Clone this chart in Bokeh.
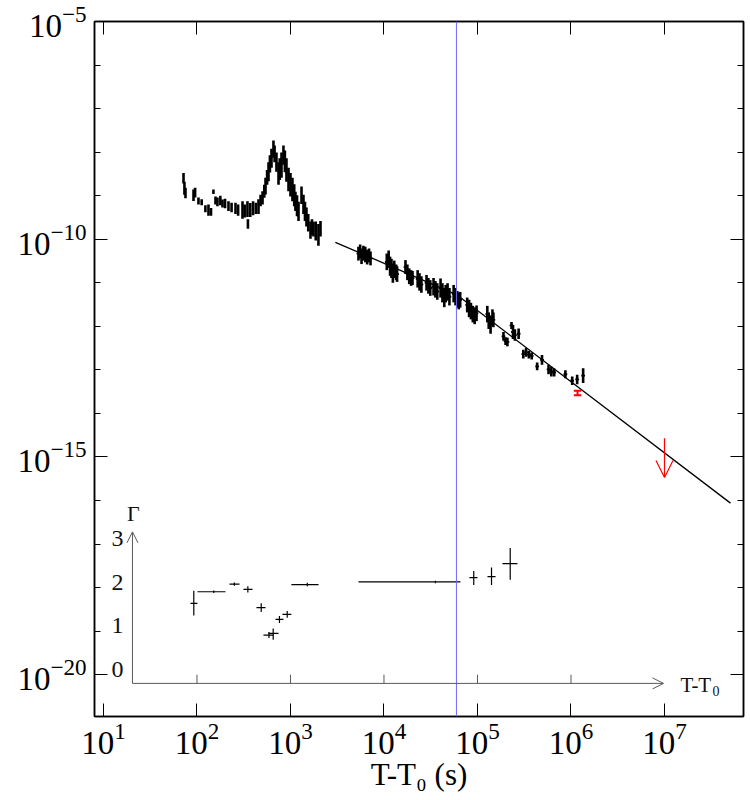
import numpy as np
from bokeh.plotting import figure
from bokeh.models import (LogAxis, FixedTicker, Span, Arrow, OpenHead, Label,
                          ColumnDataSource, Range1d, CustomJSTickFormatter)
from bokeh.embed import file_html
from bokeh.resources import INLINE
from bokeh.core.properties import value

FONT = "Liberation Serif"

# ---------------- data (log10 values) ----------------
# early light curve: log10(T-T0 [s]), log10(flux), half error (dex)
early_logt = [1.856, 1.866, 1.877, 1.963, 1.98, 2.016, 2.05, 2.09, 2.123, 2.15,
              2.176, 2.198, 2.219, 2.25, 2.273, 2.30, 2.337, 2.37, 2.412, 2.44,
              2.487, 2.51, 2.54, 2.545, 2.57, 2.60, 2.63, 2.658, 2.68, 2.701,
              2.72, 2.733, 2.75, 2.765, 2.78, 2.797, 2.818, 2.83, 2.85, 2.872,
              2.885, 2.904, 2.925, 2.94, 2.957, 2.979, 3.0, 3.021, 3.04, 3.053,
              3.07, 3.086, 3.118, 3.139, 3.155, 3.171, 3.19, 3.214, 3.23, 3.246,
              3.27, 3.299, 3.321]
early_logf = [-8.60, -8.83, -8.94, -8.99, -8.93, -9.12, -9.15, -9.30, -9.33, -9.37,
              -8.91, -9.11, -9.14, -9.11, -9.18, -9.18, -9.24, -9.27, -9.29, -9.33,
              -9.33, -9.35, -9.31, -9.65, -9.33, -9.29, -9.29, -9.25, -9.11, -9.05,
              -8.90, -8.78, -8.58, -8.45, -8.27, -8.14, -7.93, -8.04, -8.23, -8.49,
              -8.39, -8.30, -8.07, -8.21, -8.41, -8.63, -8.75, -8.86, -8.99, -9.13,
              -9.23, -9.36, -8.99, -9.20, -9.36, -9.49, -9.62, -9.79, -9.72, -9.77,
              -9.81, -9.90, -9.76]
early_err = [0.12, 0.15, 0.12, 0.13, 0.11, 0.08, 0.07, 0.08, 0.13, 0.09,
             0.05, 0.09, 0.10, 0.11, 0.09, 0.11, 0.11, 0.11, 0.13, 0.13,
             0.20, 0.15, 0.18, 0.11, 0.16, 0.16, 0.13, 0.17, 0.13, 0.15,
             0.15, 0.19, 0.17, 0.22, 0.20, 0.22, 0.20, 0.19, 0.22, 0.26,
             0.25, 0.29, 0.22, 0.25, 0.27, 0.27, 0.27, 0.27, 0.25, 0.22,
             0.24, 0.22, 0.20, 0.22, 0.22, 0.22, 0.20, 0.20, 0.18, 0.17,
             0.22, 0.25, 0.18]

# late light curve
late_logt = [3.727, 3.745, 3.76, 3.78, 3.80, 3.82, 3.84, 3.856,
             4.03, 4.05, 4.065, 4.08, 4.095, 4.11, 4.13, 4.14,
             4.23, 4.25, 4.27, 4.29, 4.305,
             4.36, 4.38, 4.40,
             4.455, 4.475, 4.495,
             4.53, 4.55, 4.57,
             4.605, 4.625, 4.645, 4.66,
             4.68, 4.70,
             4.745, 4.765, 4.785, 4.80, 4.815,
             4.89, 4.91, 4.93, 4.95, 4.97, 4.99,
             5.105, 5.12, 5.14, 5.16, 5.17,
             5.278, 5.30, 5.32, 5.364, 5.38, 5.40, 5.44,
             5.49, 5.52, 5.55, 5.58,
             5.638, 5.69,
             5.76, 5.79, 5.82,
             5.94, 6.013, 6.066, 6.13]
late_logf = [-10.33, -10.28, -10.39, -10.32, -10.35, -10.41, -10.37, -10.44,
             -10.52, -10.46, -10.62, -10.67, -10.78, -10.69, -10.76, -10.80,
             -10.64, -10.76, -10.85, -10.89, -10.89,
             -10.91, -10.98, -11.04,
             -11.00, -11.07, -11.12,
             -11.09, -11.15, -11.20,
             -11.12, -11.23, -11.34, -11.25,
             -11.21, -11.32,
             -11.25, -11.32, -11.38, -11.42, -11.39,
             -11.51, -11.59, -11.65, -11.72, -11.76, -11.70,
             -11.72, -11.87, -11.96, -11.79, -11.85,
             -12.23, -12.34, -12.36, -11.98, -12.13, -12.20, -12.17,
             -12.64, -12.60, -12.65, -12.68,
             -12.92, -12.77,
             -12.99, -13.04, -13.06,
             -13.10, -13.25, -13.22, -13.13]
late_err = [0.16, 0.16, 0.18, 0.17, 0.18, 0.17, 0.16, 0.16,
            0.19, 0.20, 0.22, 0.22, 0.22, 0.20, 0.18, 0.18,
            0.16, 0.18, 0.18, 0.18, 0.16,
            0.20, 0.20, 0.19,
            0.18, 0.18, 0.18,
            0.20, 0.19, 0.19,
            0.22, 0.22, 0.22, 0.20,
            0.20, 0.20,
            0.20, 0.20, 0.19, 0.19, 0.18,
            0.17, 0.20, 0.19, 0.19, 0.19, 0.18,
            0.19, 0.19, 0.21, 0.18, 0.17,
            0.10, 0.09, 0.10, 0.08, 0.16, 0.13, 0.12,
            0.10, 0.10, 0.09, 0.08,
            0.09, 0.11,
            0.11, 0.11, 0.09,
            0.09, 0.10, 0.11, 0.17]
late_xerr = 0.02

# red point and red upper limit
red_logt, red_logf, red_err, red_xerr = 6.07, -13.53, 0.05, 0.04
ul_logt, ul_top, ul_bottom = 7.0, -14.57, -15.47

# fitted decay (nodes)
fit_logt = [3.48, 4.775, 7.706]
fit_logf = [-10.07, -11.27, -16.06]

# vertical marker
vline_logt = 4.775

# photon index Gamma
gam_logt = [1.966, 2.18, 2.40, 2.544, 2.687, 2.77, 2.815, 2.882, 2.965, 3.18, 4.55, 4.96, 5.15, 5.35]
gam_logt_lo = [1.93, 2.005, 2.348, 2.497, 2.636, 2.711, 2.765, 2.84, 2.914, 3.01, 3.727, 4.914, 5.107, 5.267]
gam_logt_hi = [2.005, 2.305, 2.455, 2.594, 2.733, 2.818, 2.872, 2.925, 3.01, 3.30, 4.818, 5.0, 5.193, 5.428]
gam = [1.64, 1.905, 2.08, 1.96, 1.54, 0.91, 0.95, 1.27, 1.385, 2.07, 2.13, 2.23, 2.25, 2.55]
gam_lo = [1.36, 1.875, 2.04, 1.89, 1.44, 0.84, 0.80, 1.19, 1.31, 2.03, 2.10, 2.06, 2.06, 2.18]
gam_hi = [1.93, 1.935, 2.12, 2.03, 1.64, 0.98, 1.06, 1.35, 1.46, 2.11, 2.16, 2.38, 2.46, 2.91]
gam_ticks = [0, 1, 2, 3]
gam_offset = -20.0          # Gamma is drawn at flux 10**(Gamma + offset)
inset_x_ticks = [1e2, 1e3, 1e4, 1e5, 1e6]
inset_logt_start, inset_logt_end = 1.31, 6.99
inset_g_bottom, inset_g_top = -0.2, 3.28

x_ticks = [10.0 ** k for k in range(1, 8)]
y_ticks = [1e-20, 1e-15, 1e-10, 1e-5]
y_minor = [10.0 ** k for k in range(-20, -4)]

# ---------------- figure ----------------
p = figure(width=750, height=800, x_axis_type="log", y_axis_type="log",
           x_range=Range1d(10 ** 0.904, 10 ** 7.845),
           y_range=Range1d(10 ** -20.96, 10 ** -5.0),
           output_backend="svg", toolbar_location=None,
           min_border_left=94, min_border_right=7, min_border_top=21,
           min_border_bottom=84)
p.grid.visible = False
p.outline_line_color = "black"
p.outline_line_width = 1.5


def style_axis(ax, labels=True):
    ax.axis_line_color = "black"
    ax.axis_line_width = 1.5
    ax.major_tick_in = 13
    ax.major_tick_out = 0
    ax.minor_tick_in = 6
    ax.minor_tick_out = 0
    ax.major_tick_line_color = "black"
    ax.minor_tick_line_color = "black"
    if labels:
        ax.major_label_text_font = FONT
        ax.major_label_text_font_size = "33px"
        ax.major_label_text_color = "black"
        ax.major_label_standoff = 8
    else:
        ax.formatter = CustomJSTickFormatter(code="return ''")
        ax.major_label_text_font_size = "1px"
        ax.major_label_standoff = 0


xb = p.xaxis[0]
xb.ticker = FixedTicker(ticks=x_ticks, minor_ticks=[])
style_axis(xb)
xb.major_label_standoff = 6
xb.axis_label = "T-T\u2080 (s)"
xb.axis_label_text_font = FONT
xb.axis_label_text_font_size = "31px"
xb.axis_label_text_font_style = "normal"
xb.axis_label_text_color = "black"
xb.axis_label_standoff = 0

yl = p.yaxis[0]
yl.ticker = FixedTicker(ticks=y_ticks, minor_ticks=y_minor)
style_axis(yl)

top = LogAxis(ticker=FixedTicker(ticks=x_ticks, minor_ticks=[]))
style_axis(top, labels=False)
p.add_layout(top, "above")
right = LogAxis(ticker=FixedTicker(ticks=y_ticks, minor_ticks=y_minor))
style_axis(right, labels=False)
p.add_layout(right, "right")

# ---------------- light curve ----------------
early_src = ColumnDataSource(dict(
    t=[10 ** v for v in early_logt],
    lo=[10 ** (f - e) for f, e in zip(early_logf, early_err)],
    hi=[10 ** (f + e) for f, e in zip(early_logf, early_err)]))
p.segment(x0="t", y0="lo", x1="t", y1="hi", source=early_src,
          line_color="black", line_width=2.6)

late_src = ColumnDataSource(dict(
    t=[10 ** v for v in late_logt],
    tlo=[10 ** (v - late_xerr) for v in late_logt],
    thi=[10 ** (v + late_xerr) for v in late_logt],
    f=[10 ** v for v in late_logf],
    lo=[10 ** (f - e) for f, e in zip(late_logf, late_err)],
    hi=[10 ** (f + e) for f, e in zip(late_logf, late_err)]))
p.segment(x0="t", y0="lo", x1="t", y1="hi", source=late_src,
          line_color="black", line_width=2.6)
p.segment(x0="tlo", y0="f", x1="thi", y1="f", source=late_src,
          line_color="black", line_width=1.8)

# fit line
p.line([10 ** v for v in fit_logt], [10 ** v for v in fit_logf],
       line_color="black", line_width=1.3)

# red point
rt = 10 ** red_logt
r_lo, r_hi = 10 ** (red_logf - red_err), 10 ** (red_logf + red_err)
r_tl, r_th = 10 ** (red_logt - red_xerr), 10 ** (red_logt + red_xerr)
p.segment(x0=[rt, r_tl, r_tl], y0=[r_lo, r_lo, r_hi],
          x1=[rt, r_th, r_th], y1=[r_hi, r_lo, r_hi],
          line_color="red", line_width=2)

# red upper limit
p.add_layout(Arrow(x_start=10 ** ul_logt, y_start=10 ** ul_top,
                   x_end=10 ** ul_logt, y_end=10 ** ul_bottom,
                   line_color="red", line_width=1.2,
                   end=OpenHead(size=17, line_color="red", line_width=1.2)))

# blue vertical line
p.add_layout(Span(location=10 ** vline_logt, dimension="height",
                  line_color="#6a6aff", line_width=1))

# ---------------- Gamma inset ----------------
GREY = "#5a5a5a"
g_bottom = 10 ** (inset_g_bottom + gam_offset)
p.add_layout(Arrow(x_start=10 ** inset_logt_start, y_start=g_bottom,
                   x_end=10 ** inset_logt_start, y_end=10 ** (inset_g_top + gam_offset),
                   line_color=GREY, line_width=1,
                   end=OpenHead(size=11, line_color=GREY, line_width=1)))
p.add_layout(Arrow(x_start=10 ** inset_logt_start, y_start=g_bottom,
                   x_end=10 ** inset_logt_end, y_end=g_bottom,
                   line_color=GREY, line_width=1,
                   end=OpenHead(size=11, line_color=GREY, line_width=1)))
p.segment(x0=inset_x_ticks, y0=[g_bottom] * len(inset_x_ticks),
          x1=inset_x_ticks, y1=[10 ** (gam_offset)] * len(inset_x_ticks),
          line_color=GREY, line_width=1)

gam_src = ColumnDataSource(dict(
    t=[10 ** v for v in gam_logt],
    tlo=[10 ** v for v in gam_logt_lo],
    thi=[10 ** v for v in gam_logt_hi],
    g=[10 ** (v + gam_offset) for v in gam],
    glo=[10 ** (v + gam_offset) for v in gam_lo],
    ghi=[10 ** (v + gam_offset) for v in gam_hi]))
p.segment(x0="t", y0="glo", x1="t", y1="ghi", source=gam_src,
          line_color="black", line_width=1.2)
p.segment(x0="tlo", y0="g", x1="thi", y1="g", source=gam_src,
          line_color="black", line_width=1.2)

p.text(x=[10 ** 1.15] * len(gam_ticks),
       y=[10 ** (g + gam_offset + 0.12) for g in gam_ticks],
       text=[str(g) for g in gam_ticks],
       text_font=value(FONT), text_font_size="24px", text_color="#111111",
       text_align="center", text_baseline="middle")

p.add_layout(Label(x=10 ** 1.32, y=10 ** -16.3, text="Γ", text_font=FONT,
                   text_font_size="22px", text_color="#111111",
                   text_align="center", text_baseline="middle"))
p.add_layout(Label(x=10 ** 7.171, y=10 ** -20.24, text="T-T", text_font=FONT,
                   text_font_size="21px", text_color="#111111",
                   text_align="left", text_baseline="middle"))
p.add_layout(Label(x=10 ** 7.171, y=10 ** -20.24, x_offset=32, y_offset=-6,
                   text="0", text_font=FONT, text_font_size="14px",
                   text_color="#111111", text_align="left", text_baseline="middle"))

open("out.html", "w").write(file_html(p, INLINE))
